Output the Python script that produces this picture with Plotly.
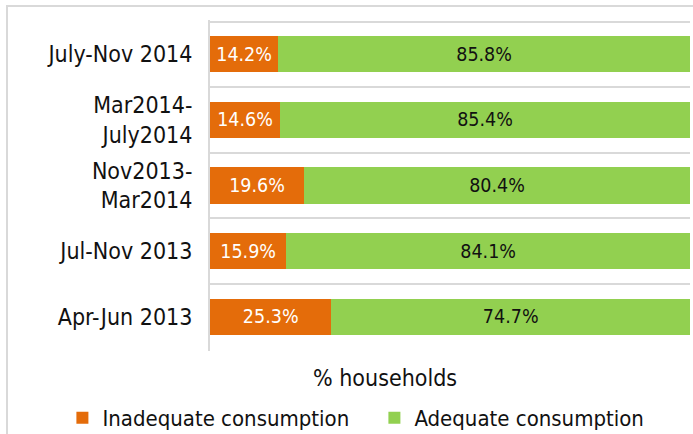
import plotly.graph_objects as go

categories = ["July-Nov 2014", "Mar2014-<br>July2014", "Nov2013-<br>Mar2014", "Jul-Nov 2013", "Apr-Jun 2013"]
inadequate = [14.2, 14.6, 19.6, 15.9, 25.3]
adequate = [85.8, 85.4, 80.4, 84.1, 74.7]

FONT = "DejaVu Sans Condensed, DejaVu Sans, sans-serif"

fig = go.Figure()
fig.add_trace(go.Bar(
    y=categories, x=inadequate, orientation="h", name="Inadequate consumption",
    marker=dict(color="#E46C0A", line=dict(width=0)),
    texttemplate="%{x:.1f}%", textposition="inside", insidetextanchor="middle",
    textfont=dict(color="white", size=19.5, family=FONT), width=0.55,
))
fig.add_trace(go.Bar(
    y=categories, x=adequate, orientation="h", name="Adequate consumption",
    marker=dict(color="#92D050", line=dict(width=0)),
    texttemplate="%{x:.1f}%", textposition="inside", insidetextanchor="middle",
    textfont=dict(color="#111111", size=19.5, family=FONT), width=0.55,
))

fig.update_layout(
    barmode="stack",
    width=693, height=434,
    margin=dict(l=210, r=3, t=20, b=83, autoexpand=False),
    paper_bgcolor="white", plot_bgcolor="white",
    font=dict(family=FONT, size=22, color="#111111"),
    showlegend=True,
    legend=dict(orientation="h", x=-0.3075, xanchor="left", y=-0.2024, yanchor="middle",
                font=dict(size=22), entrywidth=267, traceorder="normal",
                bgcolor="rgba(0,0,0,0)"),
)
fig.update_xaxes(range=[0, 100], showticklabels=False, showgrid=False, zeroline=False,
                 showline=False, ticks="", fixedrange=True)
n = len(categories)
fig.update_yaxes(range=[n - 0.5 + 0.025, -0.5 - 0.025], type="category", tickson="boundaries",
                 showgrid=True, gridcolor="#D9D9D9", gridwidth=2, ticks="",
                 showline=True, linecolor="#D9D9D9", linewidth=2,
                 ticklabelstandoff=11, tickfont=dict(size=23))

fig.add_annotation(text="% households", xref="paper", yref="paper",
                   x=0.3646, y=-0.0816, xanchor="center", yanchor="middle",
                   showarrow=False, font=dict(size=23))

# outer chart-area border
fig.add_shape(type="rect", xref="paper", yref="paper",
              x0=-0.4229, y0=-0.35, x1=1.05, y1=1.0423,
              line=dict(color="#D9D9D9", width=2), layer="below")

fig.write_html("out.html", config={"displayModeBar": False},
               post_script="document.body.style.margin='0';document.body.style.overflow='hidden';")
